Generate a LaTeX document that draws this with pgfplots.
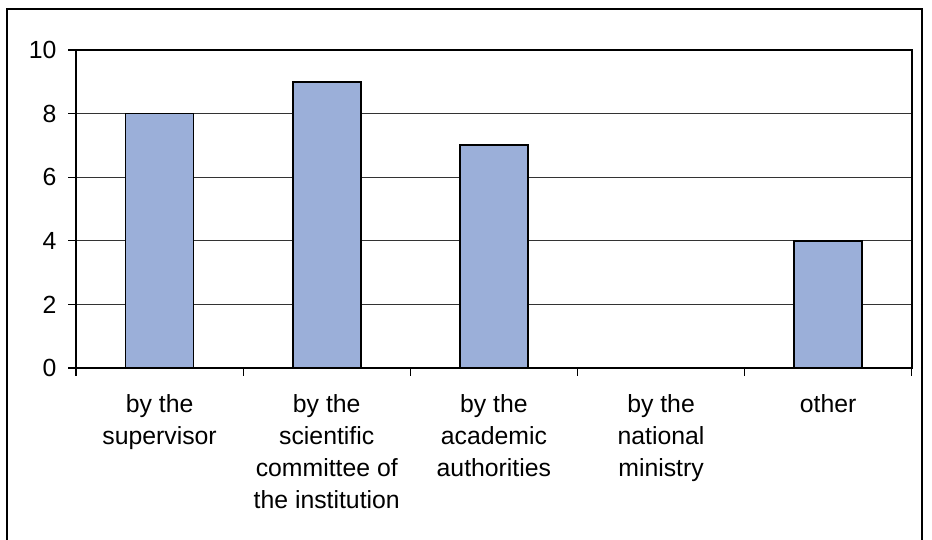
\documentclass[border=0pt]{standalone}
\usepackage{fontspec}
\setmainfont{Liberation Sans}
\usepackage{pgfplots}
\pgfplotsset{compat=1.18}
\definecolor{barblue}{RGB}{155,175,217}
\begin{document}
\fontsize{12.4pt}{16pt}\selectfont
\begin{tikzpicture}
  \useasboundingbox (0,0) rectangle (466pt,270pt);
  % outer frame
  \begin{scope}
    \clip (0,0) rectangle (466pt,270pt);
    \draw[line width=1.1pt] (3.5pt,-10pt) rectangle (461pt,265.5pt);
  \end{scope}
  \begin{axis}[
    at={(38pt,86pt)}, anchor=south west,
    scale only axis,
    width=417.9pt, height=159pt,
    xmin=-0.5, xmax=4.5,
    ymin=0, ymax=10,
    ytick={0,2,...,10},
    xtick={0,1,2,3,4},
    xticklabels={{by the\\supervisor},{by the\\scientific\\committee of\\the institution},{by the\\academic\\authorities},{by the\\national\\ministry},{other}},
    xticklabel style={align=center, yshift=-5pt, font=\fontsize{12.4pt}{16pt}\selectfont},
    yticklabel style={xshift=-1.5pt, font=\fontsize{12.4pt}{16pt}\selectfont},
    /pgf/number format/assume math mode=true,
    tick pos=left,
    tick align=outside,
    major tick length=4pt,
    x tick style={draw=none},
    y tick style={black, line width=0.6pt},
    extra x ticks={-0.5,0.5,1.5,2.5,3.5,4.5},
    extra x tick labels={},
    extra x tick style={grid=none, x tick style={draw=black, line width=0.6pt}},
    ymajorgrids,
    grid style={black!80, line width=0.6pt},
    axis line style={black, line width=0.9pt},
    ybar, bar width=34pt,
  ]
    \addplot[fill=barblue, draw=black, line width=0.9pt]
      coordinates {(0,8) (1,9) (2,7) (3,0) (4,4)};
  \end{axis}
\end{tikzpicture}
\end{document}
